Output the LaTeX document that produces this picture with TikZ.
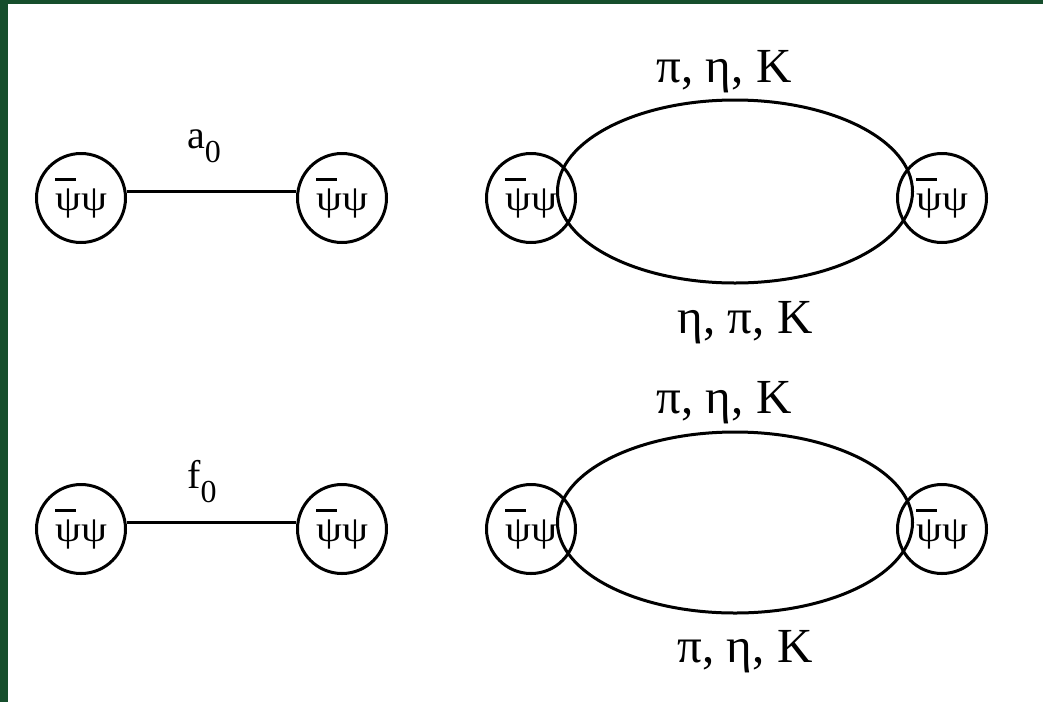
\documentclass[tikz,border=0pt]{standalone}
\usepackage{fontspec}
\setmainfont{Liberation Serif}
\definecolor{bggreen}{RGB}{22,78,44}
\newcommand\qqbar{\raisebox{-4pt}{\makebox[0pt][l]{\raisebox{29pt}{\rule{21pt}{3pt}}}\scalebox{1.15}[1]{ψψ}}}
\begin{document}
\begin{tikzpicture}[x=1pt,y=-1pt,
  vert/.style={circle,draw,line width=3pt,minimum size=89pt,inner sep=0pt,
    font=\fontsize{36}{38}\selectfont},
  loopline/.style={line width=3pt},
  prop/.style={line width=2.6pt},
  lbl/.style={font=\fontsize{49}{52}\selectfont,anchor=base,inner sep=0pt},
  mlbl/.style={font=\fontsize{40}{42}\selectfont,anchor=base west,inner sep=0pt}
]
\fill[bggreen] (0,0) rectangle (1043,702);
\fill[white] (8,4) rectangle (1043,702);
\useasboundingbox (0,0) rectangle (1043,702);

% row 1, left
\node[vert] (v1) at (81,198) {\qqbar};
\node[vert] (v2) at (342,198) {\qqbar};
\draw[prop] (v1.8) -- (v2.172);
\node[mlbl] (la) at (187,148) {a\raisebox{-14pt}{\fontsize{32}{34}\selectfont 0}};

% row 1, right
\coordinate (e1) at (735,191.5);
\draw[loopline] (e1) ellipse [x radius=177.5, y radius=91.5];
\node[vert] (v3) at (531,198) {\qqbar};
\node[vert] (v4) at (942,198) {\qqbar};
\node[lbl] (t1) at (724,82) {π, η, K};
\node[lbl] (b1) at (745,333) {η, π, K};

% row 2, left
\node[vert] (v5) at (81,529) {\qqbar};
\node[vert] (v6) at (342,529) {\qqbar};
\draw[prop] (v5.8) -- (v6.172);
\node[mlbl] (lf) at (187,488) {f\raisebox{-14pt}{\fontsize{32}{34}\selectfont 0}};

% row 2, right
\coordinate (e2) at (735,522.5);
\draw[loopline] (e2) ellipse [x radius=177.5, y radius=90.5];
\node[vert] (v7) at (531,529) {\qqbar};
\node[vert] (v8) at (942,529) {\qqbar};
\node[lbl] (t2) at (724,413) {π, η, K};
\node[lbl] (b2) at (745,662) {π, η, K};
\end{tikzpicture}
\end{document}
